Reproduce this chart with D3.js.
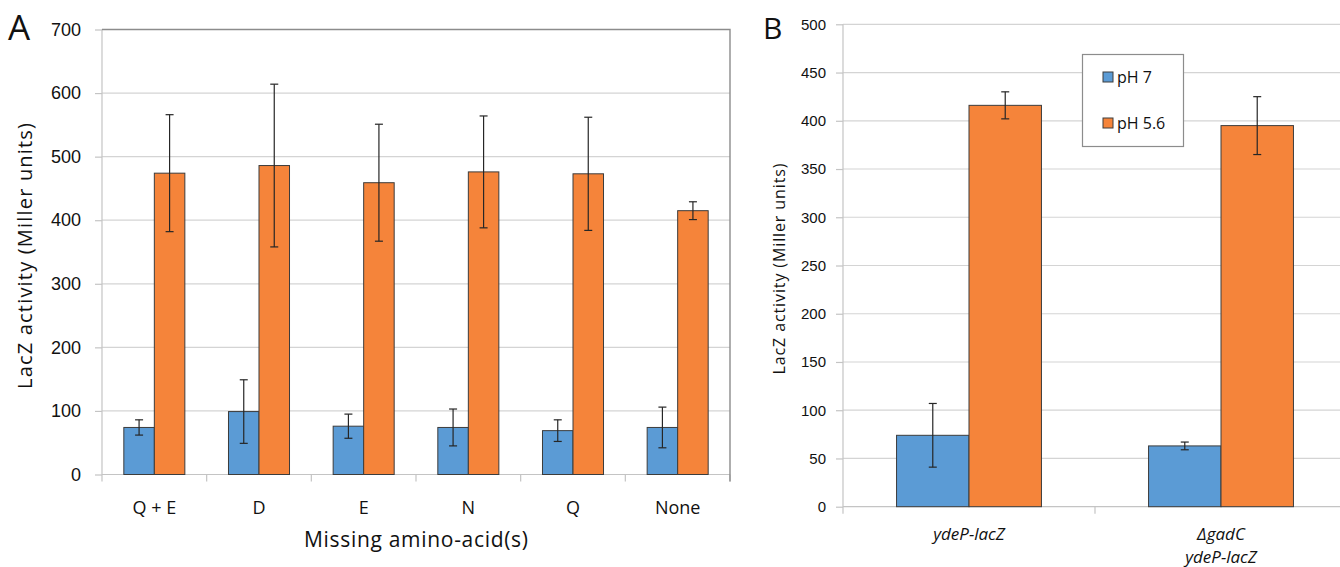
<!DOCTYPE html>
<html>
<head>
<meta charset="utf-8">
<script src="https://cdn.jsdelivr.net/npm/d3@7"></script>
<style>
	body { margin: 0; background: #fff; }
	svg { font-family: "Open Sans", sans-serif; }
	.grid line { stroke: #d4d4d4; stroke-width: 1.2; }
	.bar { stroke: #3c3c3c; stroke-width: 1; }
	.err { stroke: #262626; stroke-width: 1.2; }
</style>
</head>
<body>
<div id="chart"></div>
<script>
// Panel A data
var categoriesA = ['Q + E', 'D', 'E', 'N', 'Q', 'None'];
var ph7A = [74, 99, 76, 74, 69, 74];
var ph7ErrA = [12, 50, 19, 29, 17, 32];
var ph56A = [474, 486, 459, 476, 473, 415];
var ph56ErrA = [92, 128, 92, 88, 89, 14];
var ticksA = [0, 100, 200, 300, 400, 500, 600, 700];

// Panel B data
var categoriesB = [['ydeP-lacZ'], ['\u0394gadC', 'ydeP-lacZ']];
var ph7B = [74, 63];
var ph7ErrB = [33, 4];
var ph56B = [416, 395];
var ph56ErrB = [14, 30];
var ticksB = [0, 50, 100, 150, 200, 250, 300, 350, 400, 450, 500];

var seriesNames = ['pH 7', 'pH 5.6'];
var colors = ['#5b9bd5', '#f5843a'];

var svg = d3.select('#chart').append('svg')
	.attr('width', 1340)
	.attr('height', 567);

function drawPanel(opts) {
	var g = svg.append('g');
	var n = opts.categories.length;

	var y = d3.scaleLinear().domain([0, opts.max]).range([opts.bottom, opts.top]);
	var x = d3.scaleBand()
		.domain(d3.range(n))
		.range([opts.left, opts.right])
		.paddingInner(opts.padding)
		.paddingOuter(opts.padding / 2);
	var xs = d3.scaleBand().domain([0, 1]).range([0, x.bandwidth()]);

	// gridlines
	g.append('g').attr('class', 'grid')
		.selectAll('line').data(opts.ticks.slice(1)).enter()
		.append('line')
		.attr('x1', opts.left).attr('x2', opts.right)
		.attr('y1', function(d) { return y(d); })
		.attr('y2', function(d) { return y(d); });

	// y axis
	var yAxis = d3.axisLeft(y).tickValues(opts.ticks).tickSize(7).tickPadding(opts.tickPad);
	var ya = g.append('g')
		.attr('transform', 'translate(' + opts.left + ',0)')
		.call(yAxis);
	ya.select('.domain').attr('stroke', '#c4c4c4').attr('stroke-width', 1.2)
		.attr('d', 'M0,' + opts.top + 'V' + (opts.bottom + 7));
	ya.selectAll('.tick line').attr('stroke', '#c4c4c4').attr('stroke-width', 1.2);
	ya.selectAll('.tick text').attr('fill', '#111').style('font-size', opts.tickFont + 'px');

	// x baseline and category ticks
	g.append('line')
		.attr('x1', opts.left).attr('x2', opts.right)
		.attr('y1', y(0)).attr('y2', y(0))
		.attr('stroke', '#c4c4c4').attr('stroke-width', 1.2);
	g.selectAll('.xtick').data(d3.range(1, n + 1)).enter()
		.append('line')
		.attr('x1', function(i) { return opts.left + i * x.step(); })
		.attr('x2', function(i) { return opts.left + i * x.step(); })
		.attr('y1', y(0)).attr('y2', y(0) + 7)
		.attr('stroke', '#c4c4c4').attr('stroke-width', 1.2);

	if (opts.border) {
		g.append('path')
			.attr('d', 'M' + opts.left + ',' + opts.top + 'H' + opts.right + 'V' + (opts.bottom + 7))
			.attr('fill', 'none').attr('stroke', '#8c8c8c').attr('stroke-width', 1.4);
	}

	// bars + error bars
	var series = [opts.s1, opts.s2];
	var errs = [opts.e1, opts.e2];
	series.forEach(function(vals, s) {
		g.selectAll('.bar-s' + s).data(vals).enter()
			.append('rect')
			.attr('class', 'bar')
			.attr('x', function(d, i) { return x(i) + xs(s); })
			.attr('y', function(d) { return y(d); })
			.attr('width', xs.bandwidth())
			.attr('height', function(d) { return y(0) - y(d); })
			.attr('fill', colors[s]);
	});
	series.forEach(function(vals, s) {
		var eg = g.append('g').attr('class', 'err');
		vals.forEach(function(v, i) {
			var cx = x(i) + xs(s) + xs.bandwidth() / 2,
				hi = y(v + errs[s][i]),
				lo = y(v - errs[s][i]);
			eg.append('line').attr('x1', cx).attr('x2', cx).attr('y1', hi).attr('y2', lo);
			eg.append('line').attr('x1', cx - 4).attr('x2', cx + 4).attr('y1', hi).attr('y2', hi);
			eg.append('line').attr('x1', cx - 4).attr('x2', cx + 4).attr('y1', lo).attr('y2', lo);
		});
	});

	// category labels
	opts.categories.forEach(function(c, i) {
		var lines = Array.isArray(c) ? c : [c];
		var t = g.append('text')
			.attr('text-anchor', 'middle')
			.attr('fill', '#111')
			.style('font-size', opts.catFont + 'px')
			.style('font-style', opts.italic ? 'italic' : 'normal');
		lines.forEach(function(l, k) {
			t.append('tspan')
				.attr('x', x(i) + x.bandwidth() / 2)
				.attr('y', y(0) + opts.catOffset + k * opts.catLine)
				.text(l);
		});
	});

	// y title
	g.append('text')
		.attr('transform', 'translate(' + opts.yTitleX + ',' + opts.yTitleY + ') rotate(-90)')
		.attr('text-anchor', 'middle')
		.attr('fill', '#111')
		.attr('textLength', opts.yTitleLen)
		.attr('lengthAdjust', 'spacing')
		.style('font-size', opts.yTitleFont + 'px')
		.text('LacZ activity (Miller units)');

	// panel letter
	g.append('text')
		.attr('x', opts.letterX).attr('y', opts.letterY)
		.attr('fill', '#111')
		.style('font-size', opts.letterFont + 'px')
		.text(opts.letter);

	return { x: x, y: y };
}

drawPanel({
	categories: categoriesA, s1: ph7A, s2: ph56A, e1: ph7ErrA, e2: ph56ErrA,
	ticks: ticksA, max: 700,
	left: 102, right: 730, top: 29.5, bottom: 474.5, padding: 0.417,
	tickPad: 14, tickFont: 18, catFont: 18, catOffset: 39, catLine: 24, italic: false,
	yTitleX: 32, yTitleY: 256, yTitleFont: 20, yTitleLen: 266, border: true,
	letter: 'A', letterX: 8, letterY: 40, letterFont: 35
});

svg.append('text')
	.attr('x', 416).attr('y', 547)
	.attr('text-anchor', 'middle')
	.attr('fill', '#111')
	.attr('textLength', 224)
	.attr('lengthAdjust', 'spacing')
	.style('font-size', '21px')
	.text('Missing amino-acid(s)');

drawPanel({
	categories: categoriesB, s1: ph7B, s2: ph56B, e1: ph7ErrB, e2: ph56ErrB,
	ticks: ticksB, max: 500,
	left: 843, right: 1347, top: 24.3, bottom: 506.7, padding: 0.425,
	tickPad: 10, tickFont: 15, catFont: 17, catOffset: 33, catLine: 23, italic: true,
	yTitleX: 785, yTitleY: 269, yTitleFont: 16, yTitleLen: 211, border: false,
	letter: 'B', letterX: 763, letterY: 39, letterFont: 30
});

// legend
var legend = svg.append('g');
legend.append('rect')
	.attr('x', 1082.5).attr('y', 54.5).attr('width', 101).attr('height', 92)
	.attr('fill', '#fff').attr('stroke', '#8c8c8c').attr('stroke-width', 1.2);
seriesNames.forEach(function(name, i) {
	var cy = 77 + i * 46;
	legend.append('rect')
		.attr('x', 1103).attr('y', cy - 5).attr('width', 10).attr('height', 10)
		.attr('fill', colors[i]).attr('stroke', '#3c3c3c').attr('stroke-width', 1);
	legend.append('text')
		.attr('x', 1117).attr('y', cy + 5.5)
		.attr('fill', '#111')
		.style('font-size', '16px')
		.text(name);
});
</script>
</body>
</html>
